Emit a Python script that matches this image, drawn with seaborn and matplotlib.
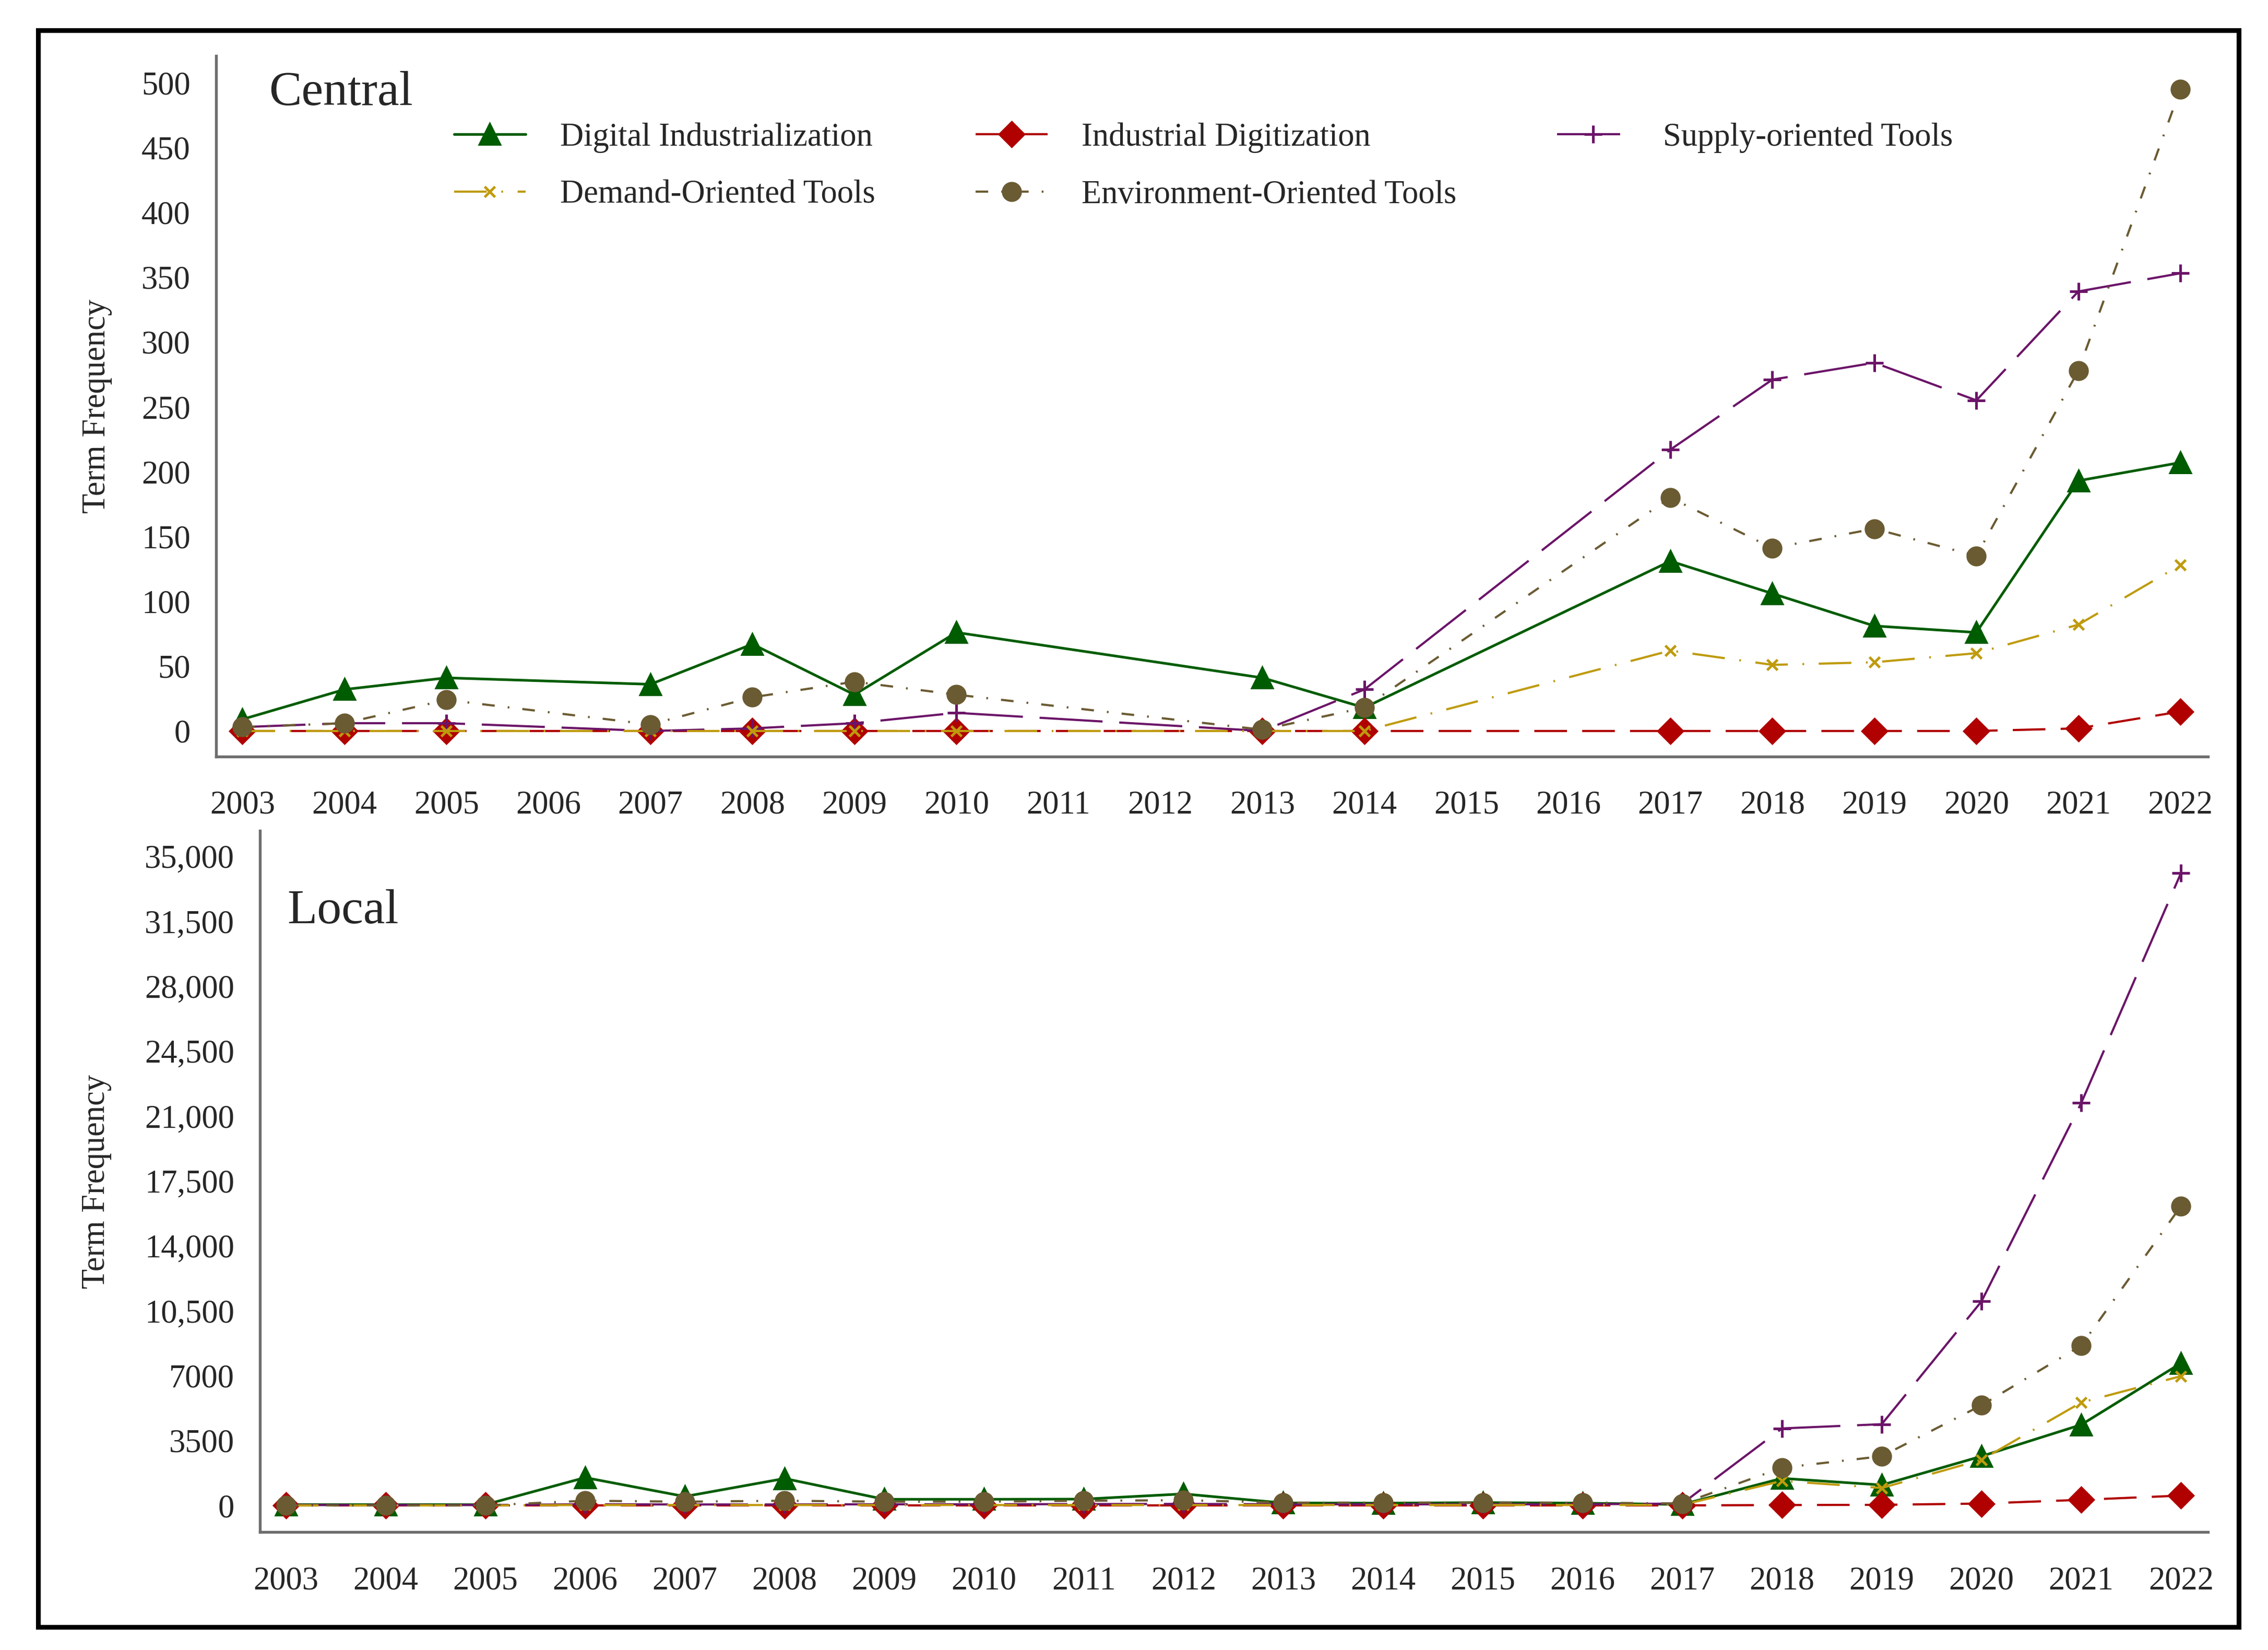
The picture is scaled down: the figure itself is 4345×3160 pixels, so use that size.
import numpy as np
import pandas as pd
import matplotlib
matplotlib.use("Agg")
import matplotlib.pyplot as plt
from matplotlib.patches import Rectangle
import seaborn as sns

# ---- data ----
central_years = [2003, 2004, 2005, 2007, 2008, 2009, 2010, 2013, 2014,
                 2017, 2018, 2019, 2020, 2021, 2022]
central_digital_ind = [9, 32, 41, 36, 67, 28, 76, 41, 18, 131, 106, 81, 76, 193, 207]
central_ind_digit = [0, 0, 0, 0, 0, 0, 0, 0, 0, 0, 0, 0, 0, 2, 15]
central_supply = [3, 6, 6, 0, 2, 6, 14, 0, 32, 217, 271, 284, 255, 339, 353]
central_demand = [0, 0, 0, 0, 0, 0, 0, 0, 0, 62, 51, 53, 60, 82, 128]
central_env = [3, 6, 24, 5, 26, 38, 28, 1, 18, 180, 141, 156, 135, 278, 495]

local_years = list(range(2003, 2023))
local_digital_ind = [40, 40, 40, 1500, 480, 1450, 330, 330, 340, 620, 130, 120,
                     150, 120, 50, 1460, 1100, 2650, 4350, 7670]
local_ind_digit = [0, 0, 0, 0, 0, 0, 0, 0, 0, 0, 0, 0, 0, 0, 0, 20, 30, 100, 300, 530]
local_supply = [20, 20, 20, 60, 50, 50, 60, 60, 70, 80, 60, 60, 60, 60, 100,
                4150, 4380, 11000, 21700, 34100]
local_demand = [0, 0, 0, 20, 20, 20, 20, 20, 20, 20, 20, 20, 20, 20, 30,
                1320, 940, 2460, 5550, 6970]
local_env = [0, 0, 0, 250, 200, 250, 200, 200, 250, 280, 150, 150, 150, 150, 100,
             2030, 2650, 5400, 8620, 16140]

year_ticks = list(range(2003, 2023))
central_yticks = [0, 50, 100, 150, 200, 250, 300, 350, 400, 450, 500]
local_yticks = [0, 3500, 7000, 10500, 14000, 17500, 21000, 24500, 28000, 31500, 35000]
local_yticklabels = ["0", "3500", "7000", "10,500", "14,000", "17,500", "21,000",
                     "24,500", "28,000", "31,500", "35,000"]

series_names = ["Digital Industrialization", "Industrial Digitization",
                "Supply-oriented Tools", "Demand-Oriented Tools",
                "Environment-Oriented Tools"]

styles = {
    "Digital Industrialization": dict(color="#005C00", marker="^", ms=9,
                                      ls="-", lw=1.2),
    "Industrial Digitization": dict(color="#B00000", marker="D", ms=7.8,
                                    ls=(0, (15, 7)), lw=1.0),
    "Supply-oriented Tools": dict(color="#6B1468", marker="+", ms=8,
                                  ls=(0, (29, 7.7)), lw=1.0),
    "Demand-Oriented Tools": dict(color="#BF9B0E", marker="x", ms=5,
                                  ls=(0, (15, 6.7, 0.8, 6.7)), lw=1.0),
    "Environment-Oriented Tools": dict(color="#6B5B32", marker="o", ms=8,
                                       ls=(0, (5.8, 6, 0.8, 6)), lw=1.0),
}

central = pd.DataFrame({"year": central_years,
                        series_names[0]: central_digital_ind,
                        series_names[1]: central_ind_digit,
                        series_names[2]: central_supply,
                        series_names[3]: central_demand,
                        series_names[4]: central_env})
local = pd.DataFrame({"year": local_years,
                      series_names[0]: local_digital_ind,
                      series_names[1]: local_ind_digit,
                      series_names[2]: local_supply,
                      series_names[3]: local_demand,
                      series_names[4]: local_env})

sns.set_style("white")
plt.rcParams["font.family"] = ["Liberation Serif", "DejaVu Serif"]

fig = plt.figure(figsize=(4345 / 300, 3160 / 300), dpi=300)
ax1 = fig.add_axes([0.0952, 0.5415, 0.9735 - 0.0952, 0.966 - 0.5415])
ax2 = fig.add_axes([0.1146, 0.0715, 0.9735 - 0.1146, 0.4965 - 0.0715])


def draw_panel(ax, df):
    for name in series_names:
        st = styles[name]
        sns.lineplot(data=df, x="year", y=name, ax=ax, color=st["color"],
                     marker=st["marker"], markersize=st["ms"],
                     markeredgecolor=st["color"], markeredgewidth=1.2,
                     linestyle=st["ls"], linewidth=st["lw"], label=name,
                     legend=False)
    ax.set_xticks(year_ticks)
    ax.set_xlim(2002.74, 2022.27)
    ax.set_xlabel("")
    ax.set_ylabel("Term Frequency", fontsize=15)
    for side in ["top", "right"]:
        ax.spines[side].set_visible(False)
    for side in ["left", "bottom"]:
        ax.spines[side].set_color("#6e6e6e")
        ax.spines[side].set_linewidth(1.3)
    ax.tick_params(axis="x", direction="out", length=8.6, width=1.0,
                   color="#333333", pad=7, labelsize=15)
    ax.tick_params(axis="y", direction="out", length=7.7, width=1.0,
                   color="#333333", pad=4, labelsize=15)
    ax.grid(False)


draw_panel(ax1, central)
ax1.set_yticks(central_yticks)
ax1.set_ylim(-19.7, 520.5)
ax1.yaxis.set_label_coords(-0.052, 0.5)
ax1.text(0.0265, 0.947, "Central", transform=ax1.transAxes, fontsize=22.5,
         ha="left", va="center")

draw_panel(ax2, local)
ax2.set_yticks(local_yticks)
ax2.set_yticklabels(local_yticklabels)
ax2.set_ylim(-1436, 36380)
ax2.yaxis.set_label_coords(-0.076, 0.5)
ax2.text(0.0139, 0.885, "Local", transform=ax2.transAxes, fontsize=22.5,
         ha="left", va="center")

# legend: columns filled top-down, as in the reference
handles, labels = ax1.get_legend_handles_labels()
lookup = dict(zip(labels, handles))
order = [series_names[0], series_names[3], series_names[1],
         series_names[4], series_names[2]]
ax1.legend([lookup[n] for n in order], order, ncol=3, loc="upper left",
           bbox_to_anchor=(0.1195, 0.905), frameon=False, fontsize=15,
           borderpad=0, borderaxespad=0, handlelength=2.2,
           handletextpad=1.05, columnspacing=3.08, labelspacing=0.82)

fig.patches.append(Rectangle((0.0168, 0.0139), 0.987 - 0.0168, 0.9816 - 0.0139,
                             transform=fig.transFigure, fill=False,
                             lw=2.2, ec="black"))

fig.savefig("out.png", dpi=300, facecolor="white")
